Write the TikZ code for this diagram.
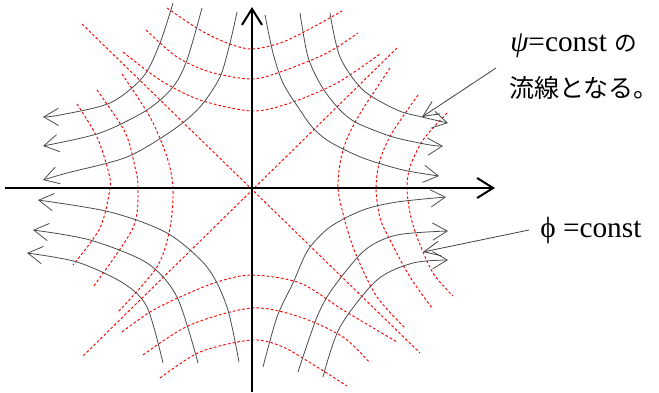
\documentclass[tikz,border=0pt]{standalone}
\usepackage{fontspec}
\setmainfont{Liberation Serif}
\newfontfamily\jpfont{Noto Sans CJK JP}
\usetikzlibrary{arrows.meta}
\tikzset{
  axis/.style={line width=1.5pt,-{Straight Barb[length=12pt,width=15pt]}},
  stream/.style={draw=black!70,line width=0.6pt,-{Straight Barb[length=11pt,width=13pt]}},
  equi/.style={draw=red,line width=0.7pt,dash pattern=on 2pt off 1.6pt},
  leader/.style={draw=black!75,line width=0.6pt,-{Straight Barb[length=12pt,width=11pt]}},
  lbl/.style={anchor=base west,inner sep=0pt,font=\fontsize{22}{24}\selectfont},
  jplbl/.style={anchor=base west,inner sep=0pt,font=\jpfont\fontsize{18.8}{20}\selectfont}
}

\begin{document}
\begin{tikzpicture}[x=0.75pt,y=0.75pt]
\useasboundingbox (-252,-204) rectangle (407,188);
% phi = const
\draw[equi] (-170,164) -- (168,-165);
\draw[equi] (145,140) -- (-170,-169);
\draw[equi] plot[smooth] coordinates {(-85,180) (-52,158) (-25,145) (0,139) (31,146) (65,163) (90,177)};
\draw[equi] plot[smooth] coordinates {(-106,158) (-75,131) (-42,116) (0,109) (31,117) (75,135) (106,155)};
\draw[equi] plot[smooth] coordinates {(-129,136) (-92,108) (-52,88) (0,77) (38,85) (85,105) (128,134)};
\draw[equi] plot[smooth] coordinates {(-130,-144) (-102,-124) (-72,-109) (-35,-94) (0,-87) (48,-95) (91,-122) (145,-154)};
\draw[equi] plot[smooth] coordinates {(-109,-167) (-62,-137) (0,-120) (48,-129) (91,-149) (118,-175)};
\draw[equi] plot[smooth] coordinates {(-92,-190) (-52,-164) (0,-152) (31,-159) (65,-179) (95,-198)};
\draw[equi] plot[smooth] coordinates {(-175,84) (-155,51) (-144,18) (-142,0) (-152,-40) (-179,-77)};
\draw[equi] plot[smooth] coordinates {(-155,98) (-127,56) (-117,21) (-114,0) (-119,-40) (-159,-99)};
\draw[equi] plot[smooth] coordinates {(-130,114) (-102,71) (-85,31) (-79,0) (-82,-40) (-95,-79) (-134,-124)};
\draw[equi] plot[smooth] coordinates {(138,120) (106,71) (91,38) (86,0) (95,-40) (105,-69) (125,-109) (153,-140)};
\draw[equi] plot[smooth] coordinates {(166,93) (140,55) (128,28) (124,0) (128,-30) (138,-52) (158,-89) (180,-120)};
\draw[equi] plot[smooth] coordinates {(195,75) (171,48) (158,21) (155,0) (158,-25) (165,-49) (181,-85) (201,-108)};
% psi = const
\draw[stream] plot[smooth] coordinates {(-79,185) (-92,145) (-109,111) (-142,85) (-192,73) (-209,71)};
\draw[stream] plot[smooth] coordinates {(-50,180) (-65,128) (-79,101) (-105,78) (-152,55) (-209,42)};
\draw[stream] plot[smooth] coordinates {(-15,176) (-22,145) (-32,111) (-52,81) (-79,58) (-125,31) (-185,15) (-209,8)};
\draw[stream] plot[smooth] coordinates {(78,175) (88,131) (111,98) (145,78) (170,71) (196,65)};
\draw[stream] plot[smooth] coordinates {(48,175) (56,131) (70,101) (88,78) (105,65) (141,51) (178,43) (191,42)};
\draw[stream] plot[smooth] coordinates {(13,173) (21,135) (31,105) (48,78) (61,60) (78,46) (111,30) (151,18) (187,12)};
\draw[stream] plot[smooth] coordinates {(-13,-174) (-25,-119) (-45,-79) (-85,-45) (-142,-24) (-214,-12)};
\draw[stream] plot[smooth] coordinates {(-54,-175) (-75,-109) (-105,-75) (-162,-52) (-219,-42)};
\draw[stream] plot[smooth] coordinates {(-89,-175) (-105,-119) (-129,-95) (-175,-74) (-225,-65)};
\draw[stream] plot[smooth] coordinates {(11,-179) (25,-129) (41,-95) (56,-62) (78,-39) (111,-22) (145,-14) (194,-9)};
\draw[stream] plot[smooth] coordinates {(46,-184) (65,-129) (81,-100) (113,-62) (145,-47) (196,-43)};
\draw[stream] plot[smooth] coordinates {(71,-189) (88,-139) (125,-92) (161,-75) (196,-72)};
% axes
\coordinate (xl) at (-247,0);
\coordinate (xr) at (243,0);
\coordinate (yb) at (0,-204);
\coordinate (yt) at (0,181);
\draw[axis] (xl) -- (xr);
\draw[axis] (yb) -- (yt);
% labels
\node[lbl] (psilbl) at (258,136) {{\itshape ψ}=const {\jpfont\fontsize{17}{20}\selectfont の}};
\node[jplbl] (flowlbl) at (257,90) {流線となる。};
\node[lbl] (philbl) at (288,-50) {ϕ =const};
\coordinate (psifoot) at (244,120);
\coordinate (psitip) at (170,71);
\coordinate (phifoot) at (277,-42);
\coordinate (phitip) at (171,-64);
\draw[leader] (psifoot) -- (psitip);
\draw[leader] (phifoot) -- (phitip);
\end{tikzpicture}
\end{document}
